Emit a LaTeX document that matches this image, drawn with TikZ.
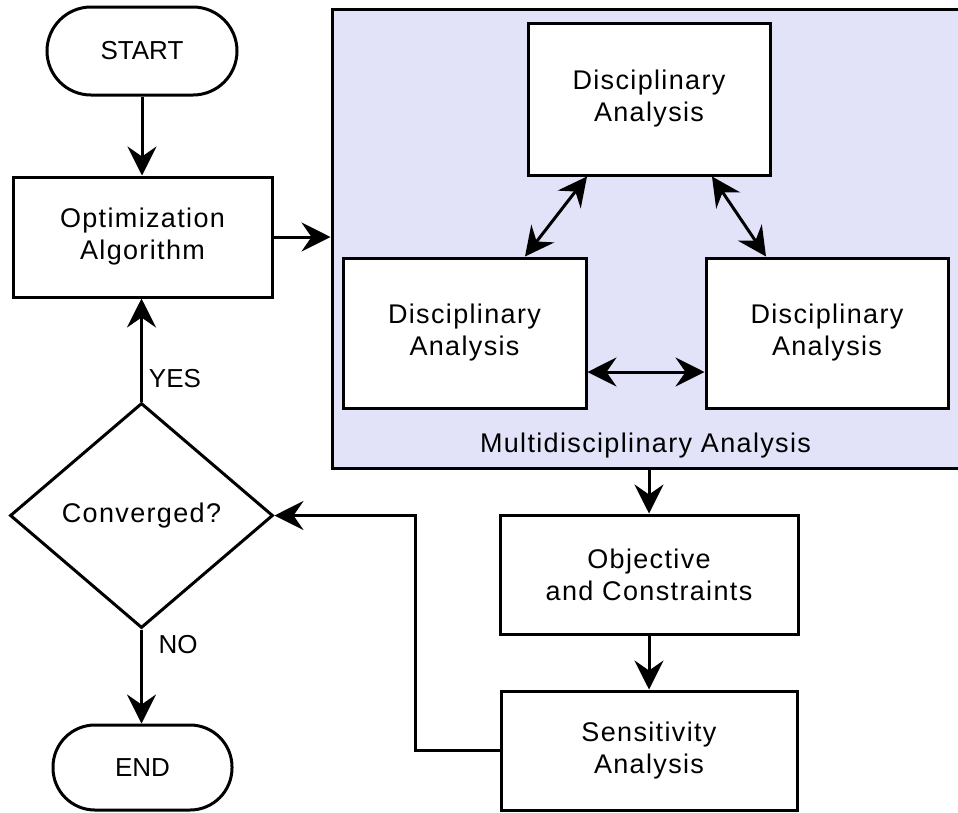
\documentclass[tikz,border=0pt]{standalone}
\usepackage{fontspec}
\setmainfont{Liberation Sans}[LetterSpace=5]
\newfontfamily\dgplainfont{Liberation Sans}
\usetikzlibrary{arrows.meta,shapes.geometric}
\definecolor{mdafill}{RGB}{226,227,248}
\newcommand\dgboxfont{\fontsize{27pt}{32pt}\selectfont}
\newcommand\dgtermfont{\dgplainfont\fontsize{26pt}{30pt}\selectfont}
\begin{document}
\begin{tikzpicture}[x=1pt,y=-1pt,
  box/.style={draw, line width=3pt, fill=white, align=center, font=\dgboxfont, inner sep=0pt},
  term/.style={draw, line width=3pt, fill=white, rounded corners=#1, font=\dgtermfont, inner sep=0pt},
  tip/.style={Stealth[length=29pt,width=29pt,inset=10pt]},
  ar/.style={line width=3pt, -{Stealth[length=29pt,width=29pt,inset=10pt]}},
  dar/.style={line width=3pt, {Stealth[length=29pt,width=29pt,inset=10pt]}-{Stealth[length=29pt,width=29pt,inset=10pt]}}]
\path[use as bounding box] (0,0) rectangle (958,812);
\clip (0,0) rectangle (958,812);

\node[draw, line width=3pt, fill=mdafill, minimum width=636pt, minimum height=459pt, inner sep=0pt] (mda) at (650,238.5) {};
\node[font=\dgboxfont, anchor=base] (mdalabel) at (645.5,452) {Multidisciplinary Analysis};

\node[term=44pt, minimum width=190pt, minimum height=88pt] (start) at (142,51) {START};
\node[box, minimum width=259pt, minimum height=120pt] (opt) at (142.5,237) {Optimization\\Algorithm};
\node[box, minimum width=242pt, minimum height=152pt] (topda) at (649,99) {Disciplinary\\Analysis};
\node[box, minimum width=243pt, minimum height=150pt] (leftda) at (464.5,333) {Disciplinary\\Analysis};
\node[box, minimum width=242pt, minimum height=150pt] (rightda) at (827,333) {Disciplinary\\Analysis};
\node[box, minimum width=298pt, minimum height=119pt] (obj) at (649,574.5) {Objective\\and Constraints};
\node[box, minimum width=296pt, minimum height=119pt] (sens) at (649,750.5) {Sensitivity\\Analysis};
\node[draw, diamond, line width=3pt, fill=white, minimum width=263pt, minimum height=225pt, inner sep=0pt, font=\dgboxfont] (conv) at (141.5,515.5) {Converged?};
\node[term=42pt, minimum width=179pt, minimum height=85pt] (end) at (142.5,767.5) {END};
\node[font=\dgtermfont] (yes) at (175,379) {YES};
\node[font=\dgtermfont] (no) at (178,645) {NO};
\coordinate (fb) at (415,516);

\draw[ar] (start) -- (start |- opt.north);
\draw[ar] (opt.east) -- (opt.east -| mda.west);
\draw[dar] ([xshift=-62pt]topda.south) -- ([xshift=60.5pt]leftda.north);
\draw[dar] ([xshift=63pt]topda.south) -- ([xshift=-61pt]rightda.north);
\draw[dar] ([yshift=-39pt]leftda.east) -- ([yshift=-39pt]rightda.west);
\draw[ar] (mda.south -| obj.north) -- (obj.north);
\draw[ar] (obj) -- (sens);
\draw[ar] (sens.west) -- (sens.west -| fb) |- (conv.east);
\draw[ar] (conv.north) -- (conv.north |- opt.south);
\draw[ar] (conv.south) -- (conv.south |- end.north);
\end{tikzpicture}
\end{document}
